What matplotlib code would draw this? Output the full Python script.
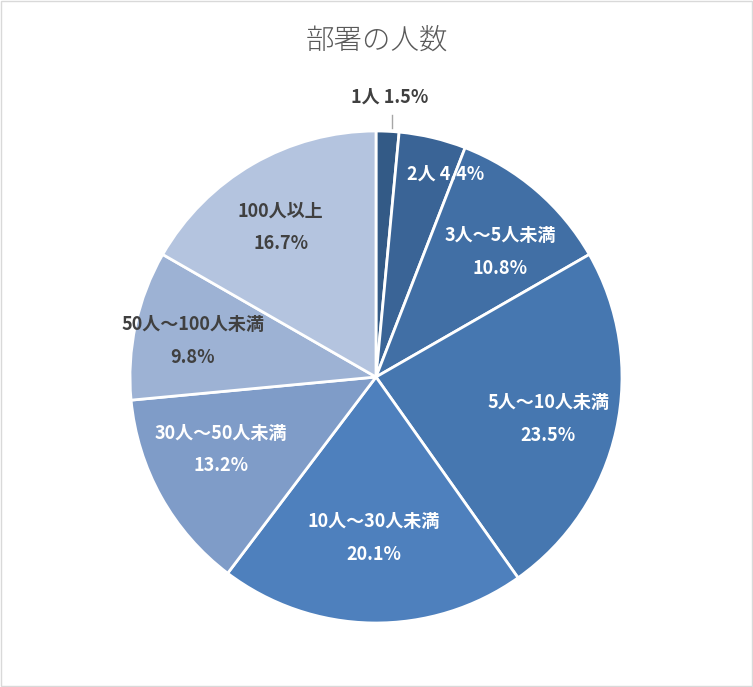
import numpy as np
import matplotlib
matplotlib.use("Agg")
import matplotlib.pyplot as plt
from matplotlib.patches import Rectangle

plt.rcParams['font.family'] = ['Noto Sans CJK JP', 'DejaVu Sans']

categories = ["1人", "2人", "3人～5人未満", "5人～10人未満", "10人～30人未満",
              "30人～50人未満", "50人～100人未満", "100人以上"]
shares = [1.5, 4.4, 10.8, 23.5, 20.1, 13.2, 9.8, 16.7]
colors = ["#335a86", "#3a6496", "#416fa5", "#4677b0", "#4e80bd",
          "#7f9cc8", "#9db2d4", "#b4c4df"]
text_colors = ["#404040", "white", "white", "white", "white", "white", "#404040", "#404040"]
# label placement (radius fraction, clockwise angle shift in degrees)
label_r = [1.14, 0.87, 0.715, 0.72, 0.655, 0.695, 0.76, 0.72]
label_shift = [0, 5.6, 4.1, 1.3, 0, 4.0, -1.2, -2.5]

W, H = 753, 687
cx, cy, R = 376, 377, 246

fig = plt.figure(figsize=(W / 100, H / 100), dpi=100)
ax = fig.add_axes([0, 0, 1, 1])
wedges, _ = ax.pie(shares, startangle=90, counterclock=False, colors=colors,
                   radius=1, wedgeprops=dict(edgecolor="white", linewidth=2))
ax.set_xlim(-cx / R, (W - cx) / R)
ax.set_ylim(-(H - cy) / R, cy / R)
ax.set_aspect("auto")
ax.axis("off")

for i, w in enumerate(wedges):
    mid = np.deg2rad((w.theta1 + w.theta2) / 2 - label_shift[i])
    r = label_r[i]
    x, y = r * np.cos(mid), r * np.sin(mid)
    if i < 2:
        txt = f"{categories[i]} {shares[i]}%"
    else:
        txt = f"{categories[i]}\n{shares[i]}%"
    if i == 0:
        ax.plot([x + 0.01, x + 0.01], [1.012, 1.065], color="#a6a6a6", lw=1)
    ax.text(x, y, txt, ha="center", va="center", fontsize=13,
            fontweight="bold", color=text_colors[i], linespacing=1.9)

fig.text(0.5, 1 - 40 / H, "部署の人数", ha="center", va="center",
         fontsize=20.5, fontweight="light", color="#595959")
fig.patches.append(Rectangle((0.001, 0.001), 0.998, 0.998, transform=fig.transFigure,
                             fill=False, edgecolor="#d9d9d9", lw=1))

fig.savefig("out.png", dpi=100)
